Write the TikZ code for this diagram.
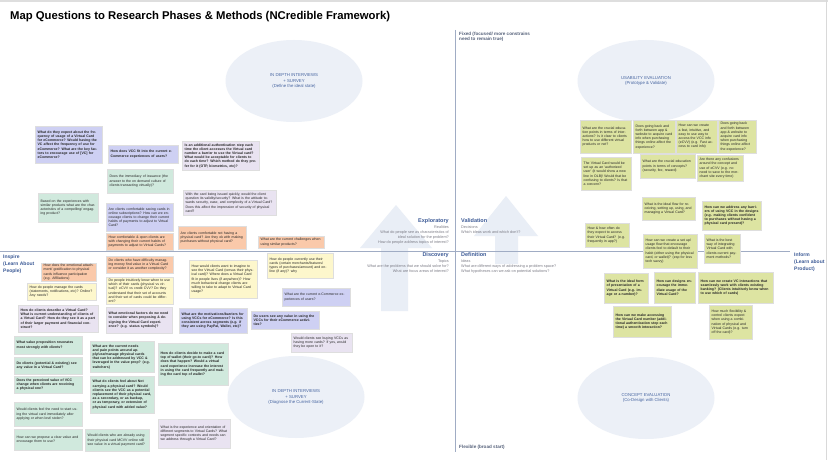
\documentclass[tikz,border=0pt]{standalone}
\usepackage{fontspec}
\setmainfont{Liberation Sans}
\usetikzlibrary{shapes.geometric}
\definecolor{clav}{RGB}{206,208,243}
\definecolor{clil}{RGB}{233,227,241}
\definecolor{cmint}{RGB}{208,233,221}
\definecolor{corg}{RGB}{250,201,170}
\definecolor{cyel}{RGB}{253,247,204}
\definecolor{coli}{RGB}{221,228,162}
\definecolor{cell}{RGB}{236,240,247}
\definecolor{celltxt}{RGB}{70,100,160}
\definecolor{caxis}{RGB}{160,172,196}
\definecolor{carrow}{RGB}{233,238,246}
\definecolor{chead}{RGB}{60,90,150}
\definecolor{csub}{RGB}{125,125,135}
\definecolor{cfix}{RGB}{85,97,122}
\tikzset{
  stk/.style={rectangle,draw=black!13,line width=0.3pt,inner xsep=2.5pt,inner ysep=1pt,align=left,text=black!85},
  nn/.style={font=\fontsize{3.5}{4.2}\selectfont},
  bb/.style={font=\fontsize{3.5}{4.2}\selectfont\bfseries},
  lav/.style={fill=clav}, lil/.style={fill=clil}, mint/.style={fill=cmint},
  org/.style={fill=corg}, yel/.style={fill=cyel}, oli/.style={fill=coli},
  ell/.style={ellipse,fill=cell,draw=none,minimum width=137pt,minimum height=82pt,align=center,text=celltxt,font=\fontsize{4.3}{5.4}\selectfont},
  qhead/.style={font=\fontsize{5.5}{6.5}\selectfont\bfseries,text=chead,inner sep=0pt},
  qsub/.style={font=\fontsize{3.8}{5}\selectfont,text=csub,inner sep=0pt},
  axlab/.style={font=\fontsize{5}{6.6}\selectfont\bfseries,text=chead,align=left,inner sep=0pt},
  axline/.style={draw=caxis,line width=0.8pt},
  bigarrow/.style={fill=carrow,draw=none}
}
\newcommand\stick[8]{\pgfmathsetmacro\stw{#6-5}\node[stk,#2,#3,anchor=north west,text width=\stw pt,minimum height=#7pt] (#1) at (#4,#5) {#8};}
\begin{document}
\begin{tikzpicture}[x=1pt,y=-1pt]
\useasboundingbox (0,0) rectangle (828,460);
\fill[white] (0,0) rectangle (828,460);
\fill[black!13] (0,0) rectangle (828,2);
\draw[black!15,line width=1pt] (826.5,0) -- (826.5,460);
% title
\node[anchor=west,inner sep=0pt,font=\fontsize{11.3}{13}\selectfont\bfseries] (title) at (10,17) {Map Questions to Research Phases \& Methods (NCredible Framework)};
% ellipses
\node[ell] (e1) at (294,81) {IN DEPTH INTERVIEWS\\+ SURVEY\\(Define the ideal state)};
\node[ell] (e2) at (646,81) {USABILITY EVALUATION\\(Prototype \& Validate)};
\node[ell] (e3) at (296,397) {IN DEPTH INTERVIEWS\\+ SURVEY\\(Diagnose the Current-State)};
\node[ell] (e4) at (646,398) {CONCEPT EVALUATION\\(Co-Design with Clients)};
% big pale arrows
\fill[bigarrow] (381,311) -- (408,311) -- (408,248) -- (432,248) -- (396,205) -- (360,248) -- (381,248) -- cycle;
\fill[bigarrow] (495,264) -- (518,264) -- (518,236) -- (538,236) -- (506,196) -- (474,236) -- (495,236) -- cycle;
% axes
\coordinate (vt) at (455,30); \coordinate (vb) at (455,452);
\coordinate (hl) at (0,251); \coordinate (hr) at (790,251);
\draw[axline] (vt) -- (vb);
\draw[axline] (hl) -- (hr);
\node[anchor=north west,font=\fontsize{4.6}{4.6}\selectfont\bfseries,text=cfix,align=left,inner sep=0pt] (fixed) at (459,32) {Fixed (focused/ more constrains\\need to remain true)};
\node[anchor=north west,font=\fontsize{4.6}{4.6}\selectfont\bfseries,text=cfix,inner sep=0pt] (flex) at (459,445) {Flexible (broad start)};
\node[axlab,anchor=north west] (inspire) at (3,255) {Inspire\\(Learn About\\People)};
\node[axlab,anchor=north west] (inform) at (794,253) {Inform\\(Learn about\\Product)};
% quadrant texts
\node[qhead,anchor=north east] (q1) at (449,218) {Exploratory};
\node[qsub,anchor=north east,align=right] (q1s) at (449,226) {Realities\\What do people see as characteristics of\\ideal solution for the problem?\\How do people address topics of interest?};
\node[qhead,anchor=north east] (q2) at (449,252) {Discovery};
\node[qsub,anchor=north east,align=right] (q2s) at (449,260) {Topics\\What are the problems that we should solve for?\\What are focus areas of interest?};
\node[qhead,anchor=north west] (q3) at (461,218) {Validation};
\node[qsub,anchor=north west,align=left] (q3s) at (461,226) {Decisions\\Which ideas work and which don't?};
\node[qhead,anchor=north west] (q4) at (461,252) {Definition};
\node[qsub,anchor=north west,align=left] (q4s) at (461,260) {Ideas\\What are different ways of addressing a problem space?\\What hypotheses can we ask on potential solutions?};
% left side notes
\stick{n1}{lav}{bb}{35}{126}{67}{37}{What do they expect about the frequency of usage of a Virtual Card for eCommerce? Would having the VC affect the frequency of use for eCommerce? What are the key factors to encourage use of [VC] for eCommerce?}
\stick{n2}{lav}{bb}{108}{145}{70}{18}{How does VCC fit into the current e-Commerce experiences of users?}
\stick{n3}{mint}{nn}{107}{169}{66}{24}{Does the immediacy of issuance (the answer to the on demand culture of clients transacting virtually)?}
\stick{n4}{mint}{nn}{38}{193}{60}{29}{Based on the experiences with similar products what are the characteristics of a compelling/ engaging product?}
\stick{n5}{lav}{nn}{106}{203}{67}{28}{Are clients comfortable saving cards in online subscriptions? How can we encourage clients to change their current habits of payments to adjust to Virtual Card?}
\stick{n6}{lil}{bb}{182}{141}{77}{29}{Is an additional authentication step each time the client accesses the Virtual card number a barrier to use the Virtual card? What would be acceptable for clients to do each time? Which method do they prefer for it (OTP, biometrics, etc)?}
\stick{n7}{lil}{nn}{183}{190}{93}{25}{With the card being issued quickly, would the client question its validity/security? What is the attitude towards security, ease, and complexity of a Virtual Card? Does this affect the impression of security of physical card?}
\stick{n8}{org}{nn}{106}{233}{67}{17}{How comfortable \& open clients are with changing their current habits of payments to adjust to Virtual Cards?}
\stick{n9}{org}{nn}{178}{226}{68}{23}{Are clients comfortable not having a physical card? Are they ok with making purchases without physical card?}
\stick{n10}{org}{nn}{258}{236}{66}{12}{What are the current challenges when using similar products?}
\stick{n11}{org}{nn}{41}{263}{55}{18}{How does the emotional attachment/ gratification to physical cards influence participation (e.g. Affiliations)}
\stick{n12}{org}{nn}{106}{256}{67}{17}{Do clients who have difficulty managing money find value in a Virtual Card or consider it as another complexity?}
\stick{n13}{yel}{nn}{27}{283}{69}{17}{How do people manage the cards (statements, notifications, etc)? Online? Any needs?}
\stick{n14}{yel}{nn}{106}{277}{67}{27}{Do people intuitively know when to use which of their cards (physical vs virtual)? eCVV vs credit CVV? Do they understand that their set of accounts and their set of cards could be different?}
\stick{n15}{yel}{nn}{189}{260}{68}{38}{How would clients want to imagine to see the Virtual Card (versus their physical card)? Where does a Virtual Card fit in people lives (if anywhere)? How much behavioral change clients are willing to take to adapt to Virtual Card usage?}
\stick{n16}{yel}{nn}{267}{253}{66}{25}{How do people currently use their cards (certain merchants/features/ types of purchases/amount) and online (if any)? why}
\stick{n17}{lav}{nn}{282}{288}{68}{18}{What are the current e-Commerce experiences of users?}
\stick{n18}{lil}{bb}{106}{307}{66}{26}{What emotional factors do we need to consider when proposing \& designing the Virtual Card experience? (e.g. status symbols)?}
\stick{n19}{lil}{bb}{18}{305}{80}{27}{How do clients describe a Virtual Card? What is current understanding of clients of a Virtual Card? How do they see it as a part of their larger payment and financial construct?}
\stick{n20}{lav}{bb}{179}{308}{68}{25}{What are the motivations/barriers for using VCCs for eCommerce? Is this consistent across segments (e.g. if they are using PayPal, Wallet, etc)?}
\stick{n21}{lav}{bb}{251}{311}{68}{18}{Do users see any value in using the VCCs for their eCommerce activities?}
\stick{n22}{lil}{nn}{291}{333}{61}{19}{Would clients see buying VCCs as having more cards? If yes, would they be open to it?}
\stick{n23}{mint}{bb}{14}{336}{68}{18}{What value proposition resonates most strongly with clients?}
\stick{n24}{mint}{bb}{14}{357}{68}{17}{Do clients (potential \& existing) see any value in a Virtual Card?}
\stick{n25}{mint}{bb}{14}{376}{68}{17}{Does the perceived value of VCC change when clients are receiving a physical one?}
\stick{n26}{mint}{nn}{14}{402}{68}{24}{Would clients feel the need to start using the virtual card immediately after applying or when lost/ stolen?}
\stick{n27}{mint}{nn}{14}{429}{68}{21}{How can we propose a clear value and encourage them to use?}
\stick{n28}{mint}{bb}{90}{341}{64}{31}{What are the current needs and pain points around apply/use/manage physical cards that can be addressed by VCC \& leveraged in the value prop? (e.g. switchers)}
\stick{n29}{mint}{bb}{90}{376}{64}{37}{What do clients feel about Not carrying a physical card? Would clients see the VCC as a potential replacement of their physical card, as a secondary, or as backup, or as temporary, or extension of physical card with added value?}
\stick{n30}{mint}{nn}{85}{429}{64}{22}{Would clients who are already using their physical card MCVV online still see value in a virtual payment card?}
\stick{n31}{mint}{bb}{158}{343}{70}{42}{How do clients decide to make a card top of wallet (their go-to card)? How does that happen? Would a virtual card experience increase the interest in using the card frequently and making the card top of wallet?}
\stick{n32}{lil}{nn}{158}{419}{72}{29}{What is the experience and orientation of different segments to Virtual Cards? What segment specific contexts and needs can we address through a Virtual Card?}
% right side notes
\stick{n33}{oli}{nn}{580}{120}{51}{33}{What are the crucial education points in terms of interactions? Is it clear to clients how to use different virtual products or not?}
\stick{n34}{oli}{nn}{633}{120}{42}{33}{Does going back and forth between app \& website to acquire card info when purchasing things online affect the experience?}
\stick{n35}{oli}{nn}{676}{120}{41}{33}{How can we create a fast, intuitive, and easy to use way to access the VCC info (eCVV) (e.g. Fast access to card info)}
\stick{n36}{oli}{nn}{718}{120}{38}{33}{Does going back and forth between app \& website to acquire card info when purchasing things online affect the experience?}
\stick{n37}{oli}{nn}{581}{157}{50}{33}{The Virtual Card would be set up as an `authorized user' (it would show a new line in OLB)! Would that be confusing to clients? Is that a concern?}
\stick{n38}{oli}{nn}{640}{154}{55}{24}{What are the crucial education points in terms of concepts? (security, fee, reward)}
\stick{n39}{oli}{nn}{697}{155}{46}{26}{Are there any confusions around the concept and use of eCVV (e.g. no need to save to the merchant site every time)}
\stick{n40}{oli}{nn}{642}{197}{53}{23}{What is the ideal flow for receiving, setting up, using, and managing a Virtual Card?}
\stick{n41}{oli}{bb}{702}{201}{59}{29}{How can we address any barriers of using VCC in the designs (e.g. making clients confident to purchases without having a physical card present)?}
\stick{n42}{oli}{nn}{585}{223}{44}{24}{How \& how often do they expect to access their Virtual Card? (e.g. frequently in app?)}
\stick{n43}{oli}{nn}{643}{234}{54}{34}{How can we create a set up/ usage flow that encourage clients feel to default to their habit (either using the physical card, or wallet)? (esp for less tech savvy)}
\stick{n44}{oli}{nn}{704}{234}{36}{29}{What is the best way of integrating Virtual Card with clients current payment methods?}
\stick{n45}{oli}{bb}{604}{273}{44}{30}{What is the ideal form of presentation of a Virtual Card (e.g. image or a number)?}
\stick{n46}{oli}{bb}{654}{272}{41}{31}{How can designs encourage the immediate usage of the Virtual Card?}
\stick{n47}{oli}{bb}{698}{272}{75}{31}{How can we create VC interactions that seamlessly work with clients existing banking? (Clients intuitively know when to use which of cards)}
\stick{n48}{oli}{bb}{613}{306}{58}{31}{How can we make accessing the Virtual Card number (additional authentication step each time) a smooth interaction?}
\stick{n49}{oli}{nn}{709}{305}{43}{34}{How much flexibility \& control clients expect when using a combination of physical and Virtual Cards (e.g. turn off the card)?}
\end{tikzpicture}
\end{document}
